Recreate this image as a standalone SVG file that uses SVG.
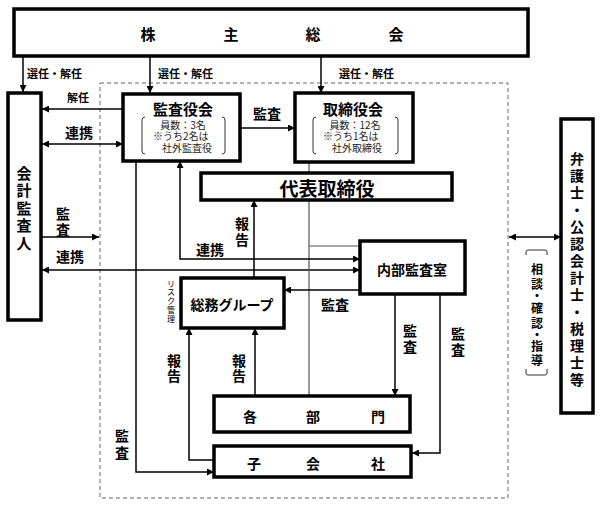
<svg xmlns="http://www.w3.org/2000/svg" width="602" height="508" viewBox="0 0 602 508">
<defs>
<marker id="ah" viewBox="0 0 10 10" refX="10" refY="5" markerWidth="8" markerHeight="7" orient="auto-start-reverse" markerUnits="userSpaceOnUse"><path d="M0,0 L10,5 L0,10 z" fill="#000"/></marker>
<style>
text{font-family:"Noto Sans CJK JP","Noto Sans CJK SC",sans-serif;font-weight:700;fill:#000}
.box{fill:#fff;stroke:#000;stroke-width:3.5}
.c{text-anchor:middle;dominant-baseline:central}
.ln{fill:none;stroke:#000;stroke-width:1.5}
.ar{fill:none;stroke:#000;stroke-width:1.5;marker-end:url(#ah)}
.da{fill:none;stroke:#000;stroke-width:1.5;marker-end:url(#ah);marker-start:url(#ah)}
.gl{fill:none;stroke:#555;stroke-width:1.2}
.br{fill:none;stroke:#333;stroke-width:1}
.lb{font-size:14px}
.sm{font-size:10px;font-weight:400;fill:#222}
.sel{font-size:11px}
.rk{font-size:8px;font-weight:400}
.sd{font-size:12px}
.b15{font-size:15px}
.b14{font-size:14px}
</style>
</defs>
<rect x="100" y="83" width="408" height="415" fill="none" stroke="#666" stroke-width="1" stroke-dasharray="4 3"/>

<g id="connectors">
<line class="ar" x1="23" y1="56" x2="23" y2="92"/>
<line class="ar" x1="150" y1="56" x2="150" y2="93"/>
<line class="ar" x1="321" y1="56" x2="321" y2="93"/>
<line class="ar" x1="123" y1="109" x2="42" y2="109"/>
<line class="da" x1="42" y1="144" x2="123" y2="144"/>
<line class="ar" x1="42" y1="237" x2="99" y2="237"/>
<line class="da" x1="42" y1="270" x2="360" y2="270"/>
<line class="ar" x1="240" y1="128" x2="295" y2="128"/>
<polyline class="gl" points="309,162 309,396"/>
<polyline class="gl" points="309,246 360,246"/>
<polyline class="da" points="180,161 180,259 360,259"/>
<polyline class="ar" points="136,161 136,472 214,472"/>
<line class="ar" x1="254" y1="278" x2="254" y2="200"/>
<line class="ar" x1="360" y1="290" x2="284" y2="290"/>
<line class="ar" x1="395" y1="294" x2="395" y2="396"/>
<polyline class="ar" points="440,294 440,453 412,453"/>
<line class="ar" x1="255" y1="396" x2="255" y2="328"/>
<polyline class="ar" points="214,460 189,460 189,328"/>
<line class="da" x1="509" y1="237" x2="561" y2="237"/>
<text class="sel" x="27" y="78">選任・解任</text>
<text class="sel" x="158" y="78">選任・解任</text>
<text class="sel" x="339" y="78">選任・解任</text>
<text class="sel c" x="78" y="97">解任</text>
<text class="lb c" x="79" y="132">連携</text>
<text class="lb c" x="63" y="213">監</text>
<text class="lb c" x="63" y="229">査</text>
<text class="lb c" x="70" y="256">連携</text>
<text class="lb c" x="267" y="113">監査</text>
<text class="lb c" x="210" y="249">連携</text>
<text class="lb c" x="242" y="223">報</text>
<text class="lb c" x="242" y="239">告</text>
<text class="lb c" x="335" y="304">監査</text>
<text class="lb c" x="410" y="330">監</text>
<text class="lb c" x="410" y="346">査</text>
<text class="lb c" x="458" y="333">監</text>
<text class="lb c" x="458" y="349">査</text>
<text class="lb c" x="239" y="360">報</text>
<text class="lb c" x="239" y="375">告</text>
<text class="lb c" x="174" y="360">報</text>
<text class="lb c" x="174" y="375">告</text>
<text class="lb c" x="122" y="435">監</text>
<text class="lb c" x="122" y="452">査</text>
<text class="rk c" x="171" y="283">リ</text>
<text class="rk c" x="171" y="291">ス</text>
<text class="rk c" x="171" y="300">ク</text>
<text class="rk c" x="171" y="309">管</text>
<text class="rk c" x="171" y="318">理</text>
<path class="br" d="M526,255 L526,252 Q526,250 528,250 L545,250 Q547,250 547,252 L547,255"/>
<path class="br" d="M526,369 L526,373 Q526,375 528,375 L545,375 Q547,375 547,373 L547,369"/>
<text class="sd c" x="537" y="268">相</text>
<text class="sd c" x="537" y="283">談</text>
<text class="sd c" x="537" y="295">・</text>
<text class="sd c" x="537" y="307">確</text>
<text class="sd c" x="537" y="322">認</text>
<text class="sd c" x="537" y="334">・</text>
<text class="sd c" x="537" y="345">指</text>
<text class="sd c" x="537" y="359">導</text>
</g>

<g id="kabunushi">
<rect class="box" x="14" y="9" width="514" height="47"/>
<text class="c b15" x="148" y="33">株</text>
<text class="c b15" x="231" y="33">主</text>
<text class="c b15" x="313" y="33">総</text>
<text class="c b15" x="396" y="33">会</text>
</g>

<g id="kaikei">
<rect class="box" x="8" y="93" width="33" height="227" stroke-width="3"/>
<text class="c b15" x="24" y="172">会</text>
<text class="c b15" x="24" y="189">計</text>
<text class="c b15" x="24" y="207">監</text>
<text class="c b15" x="24" y="224">査</text>
<text class="c b15" x="24" y="242">人</text>
</g>

<g id="kansayaku">
<rect class="box" x="123" y="94" width="117" height="67"/>
<text class="c b15" x="183" y="108">監査役会</text>
<text class="c sm" x="183" y="124">員数：3名</text>
<text class="sm" x="153" y="140">※うち2名は</text>
<text class="sm" x="162" y="152">社外監査役</text>
<path class="br" d="M145,117 Q142,117 142,120 L142,151 Q142,154 145,154"/>
<path class="br" d="M222,117 Q225,117 225,120 L225,151 Q225,154 222,154"/>
</g>

<g id="torishimariyaku">
<rect class="box" x="295" y="93" width="118" height="69"/>
<text class="c b15" x="353" y="108">取締役会</text>
<text class="c sm" x="355" y="124">員数：12名</text>
<text class="sm" x="323" y="140">※うち1名は</text>
<text class="sm" x="332" y="152">社外取締役</text>
<path class="br" d="M316,117 Q313,117 313,120 L313,151 Q313,154 316,154"/>
<path class="br" d="M395,117 Q398,117 398,120 L398,151 Q398,154 395,154"/>
</g>

<g id="daihyo">
<rect class="box" x="201" y="173" width="251" height="27"/>
<text class="c" x="327" y="187" style="font-size:19px">代表取締役</text>
</g>

<g id="naibu">
<rect class="box" x="360" y="241" width="105" height="53"/>
<text class="c b14" x="412" y="269">内部監査室</text>
</g>

<g id="soumu">
<rect class="box" x="181" y="278" width="103" height="50"/>
<text class="c b14" x="232" y="304">総務グループ</text>
</g>

<g id="kakubumon">
<rect class="box" x="214" y="396" width="196" height="36"/>
<text class="c b14" x="250" y="416">各</text>
<text class="c b14" x="313" y="416">部</text>
<text class="c b14" x="378" y="416">門</text>
</g>

<g id="kogaisha">
<rect class="box" x="214" y="446" width="197" height="31"/>
<text class="c b14" x="254" y="463">子</text>
<text class="c b14" x="313" y="463">会</text>
<text class="c b14" x="378" y="463">社</text>
</g>

<g id="bengoshi">
<rect class="box" x="561" y="119" width="32" height="294"/>
<text class="c b14" x="577" y="158">弁</text>
<text class="c b14" x="577" y="175">護</text>
<text class="c b14" x="577" y="192">士</text>
<text class="c b14" x="577" y="209">・</text>
<text class="c b14" x="577" y="226">公</text>
<text class="c b14" x="577" y="243">認</text>
<text class="c b14" x="577" y="260">会</text>
<text class="c b14" x="577" y="277">計</text>
<text class="c b14" x="577" y="294">士</text>
<text class="c b14" x="577" y="311">・</text>
<text class="c b14" x="577" y="328">税</text>
<text class="c b14" x="577" y="345">理</text>
<text class="c b14" x="577" y="362">士</text>
<text class="c b14" x="577" y="379">等</text>
</g>
</svg>
